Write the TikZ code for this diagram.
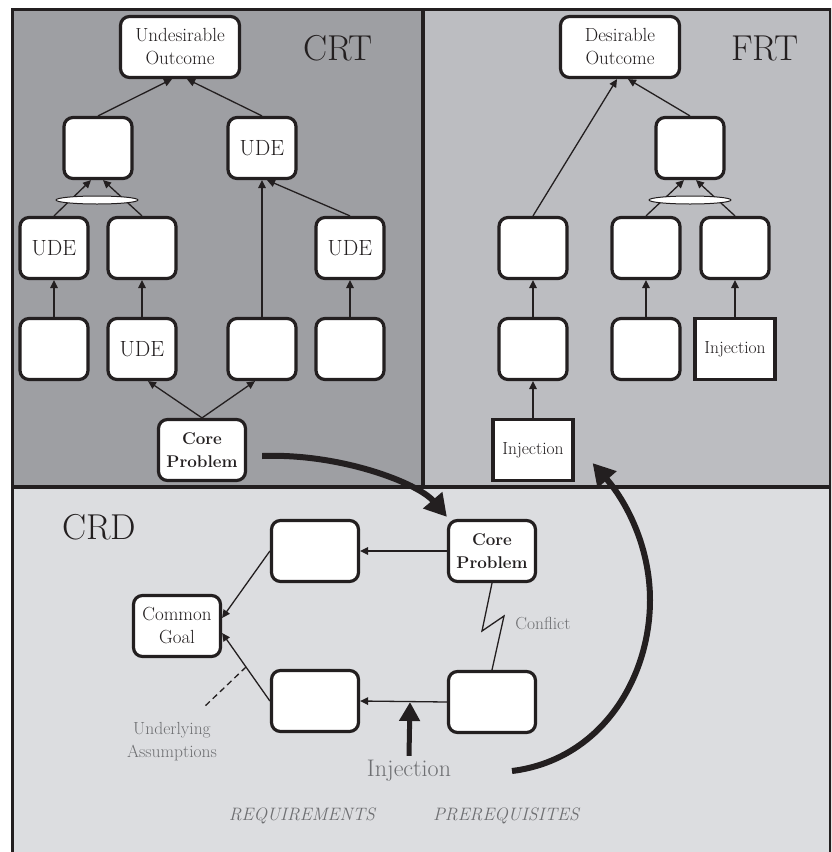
\documentclass[tikz,border=0pt]{standalone}
\usetikzlibrary{arrows.meta,calc,shapes.geometric}

\definecolor{ink}{RGB}{35,31,32}
\definecolor{crtbg}{RGB}{158,159,163}
\definecolor{frtbg}{RGB}{188,189,193}
\definecolor{crdbg}{RGB}{220,221,224}
\definecolor{note}{RGB}{110,111,114}

\newcommand\bxfont{\fontsize{19}{23}\selectfont}
\newcommand\udefont{\fontsize{22}{24}\selectfont}
\newcommand\cpfont{\fontsize{17}{23}\selectfont\bfseries}
\newcommand\panelfont{\fontsize{36}{40}\selectfont}
\newcommand\notefont{\fontsize{17.5}{23}\selectfont}

\tikzset{
  box/.style={draw=ink, line width=3.2pt, fill=white, rounded corners=9pt,
    minimum width=68pt, minimum height=61pt, inner sep=0pt,
    align=center, text=ink, font=\bxfont},
  outbox/.style={box, minimum width=119pt, minimum height=61pt},
  udebox/.style={box, font=\udefont},
  cpbox/.style={box, minimum width=87pt, minimum height=61pt, font=\cpfont},
  crdbox/.style={box, minimum width=87pt, minimum height=61pt},
  injbox/.style={box, sharp corners, minimum width=80pt, minimum height=61pt,
    font=\fontsize{17.5}{20}\selectfont},
  andlink/.style={ellipse, draw=ink, line width=1pt, fill=white,
    minimum width=82pt, minimum height=8pt, inner sep=0pt},
  edge/.style={draw=ink, line width=1.3pt},
  arr/.style={edge, -{Triangle[length=8pt,width=7.5pt]}},
  bigarr/.style={draw=ink, line width=6pt, -{Triangle[length=22pt,width=24pt]}},
  panel/.style={text=ink, font=\panelfont},
  note/.style={text=note, align=center, font=\notefont},
}

\begin{document}
\begin{tikzpicture}[x=1pt,y=-1pt]
\useasboundingbox (0,0) rectangle (831,852);
\clip (0,0) rectangle (831,852);

% panel backgrounds and frame
\fill[white] (0,0) rectangle (831,852);
\fill[crtbg] (12,9) rectangle (423,487);
\fill[frtbg] (423,9) rectangle (830,487);
\fill[crdbg] (12,487) rectangle (830,870);
\draw[ink, line width=3pt] (12,870) -- (12,9) -- (830,9) -- (830,870);
\draw[ink, line width=3.5pt] (423,9) -- (423,487);
\draw[ink, line width=3.5pt] (12,487) -- (830,487);

% panel titles
\node[panel] (tcrt) at (338,48) {CRT};
\node[panel] (tfrt) at (765,48) {FRT};
\node[panel] (tcrd) at (99,527) {CRD};

% ---------- current reality tree ----------
\node[outbox] (uo) at (180,47) {Undesirable\\Outcome};
\node[box] (c1) at (98,148) {};
\node[udebox] (c2) at (262,148) {UDE};
\node[udebox] (r3a) at (54,248) {UDE};
\node[box] (r3b) at (142,248) {};
\node[udebox] (r3d) at (350,248) {UDE};
\node[box] (r4a) at (54,349) {};
\node[udebox] (r4b) at (142,349) {UDE};
\node[box] (r4c) at (262,349) {};
\node[box] (r4d) at (350,349) {};
\node[cpbox] (cp1) at (202,450) {Core\\Problem};

\draw[arr] (c1.north) -- ([xshift=-8pt]uo.south);
\draw[arr] (c2.north) -- ([xshift=7pt]uo.south);
\draw[arr] (r3a.north) -- ([xshift=-7pt]c1.south);
\draw[arr] (r3b.north) -- ([xshift=5pt]c1.south);
\node[andlink] (e1) at (97,200) {};
\draw[arr] (r4a.north) -- (r3a.south);
\draw[arr] (r4b.north) -- (r3b.south);
\draw[arr] (r4c.north) -- (c2.south);
\draw[arr] (r3d.north) -- ([xshift=5pt]c2.south);
\draw[arr] (r4d.north) -- (r3d.south);
\draw[arr] (cp1.north) -- ([xshift=6pt]r4b.south);
\draw[arr] (cp1.north) -- ([xshift=-7pt]r4c.south);

% ---------- future reality tree ----------
\node[outbox] (do) at (620,47) {Desirable\\Outcome};
\node[box] (f1) at (690,148) {};
\node[box] (f3a) at (533,248) {};
\node[box] (f3b) at (646,248) {};
\node[box] (f3c) at (735,248) {};
\node[box] (f4a) at (533,349) {};
\node[box] (f4b) at (646,349) {};
\node[injbox] (f4c) at (735,349) {Injection};
\node[injbox] (f5a) at (533,450) {Injection};

\draw[arr] (f3a.north) -- ([xshift=-3pt]do.south);
\draw[arr] (f1.north) -- ([xshift=8pt]do.south);
\draw[arr] (f3b.north) -- ([xshift=-6pt]f1.south);
\draw[arr] (f3c.north) -- ([xshift=6pt]f1.south);
\node[andlink] (e2) at (690,200) {};
\draw[arr] (f4a.north) -- (f3a.south);
\draw[arr] (f5a.north) -- (f4a.south);
\draw[arr] (f4b.north) -- (f3b.south);
\draw[arr] (f4c.north) -- (f3c.south);

% ---------- conflict resolution diagram ----------
\node[box, minimum width=87pt] (cg) at (177,626) {Common\\Goal};
\node[crdbox] (b1) at (315,551) {};
\node[cpbox] (cp2) at (492,551) {Core\\Problem};
\node[crdbox] (b2) at (315,701) {};
\node[crdbox] (b3) at (492,702) {};

\draw[arr] (cp2.west) -- (b1.east);
\draw[arr] (b1.west) -- ([yshift=8pt]cg.east);
\draw[arr] (b2.west) -- ([yshift=-7pt]cg.east);
\draw[arr] (b3.west) -- (b2.east);

% conflict zig-zag
\coordinate (z1) at (482,631);
\coordinate (z2) at (504,616);
\draw[edge] (cp2.south) -- (z1) -- (z2) -- (b3.north);
\node[note] (conf) at (543,623) {Conflict};

% underlying assumptions
\coordinate (amid) at ($(b2.west)!0.5!([yshift=-7pt]cg.east)$);
\coordinate (aend) at (203,708);
\draw[edge, dashed, dash pattern=on 6pt off 4pt] (amid) -- (aend);
\node[note] (ua) at (172,742) {Underlying\\Assumptions};

% injection into the conflict
\node[text=note, font=\fontsize{24}{26}\selectfont] (inj) at (409,771) {Injection};
\coordinate (injpt) at (410,702);
\draw[draw=ink, line width=5pt, -{Triangle[length=19pt,width=20pt]}]
  ([yshift=1pt]inj.north) -- (injpt);

\node[text=note, font=\fontsize{18}{20}\selectfont\itshape] (req) at (302,816) {REQUIREMENTS};
\node[text=note, font=\fontsize{18}{20}\selectfont\itshape] (pre) at (506,816) {PREREQUISITES};

% transfer arrows between the trees
\coordinate (s1) at ([shift={(15pt,-6pt)}]cp1.east);
\coordinate (t1) at ([shift={(0pt,2pt)}]cp2.north west);
\draw[bigarr] (s1) .. controls (340,453) and (418,483) .. (t1);

\coordinate (s2) at (512,771);
\coordinate (m2) at (650,600);
\coordinate (t2) at ([shift={(18pt,19pt)}]f5a.south east);
\draw[bigarr] (s2) .. controls (600,760) and (650,680) .. (m2)
  .. controls (650,545) and (625,500) .. (t2);
\end{tikzpicture}
\end{document}
